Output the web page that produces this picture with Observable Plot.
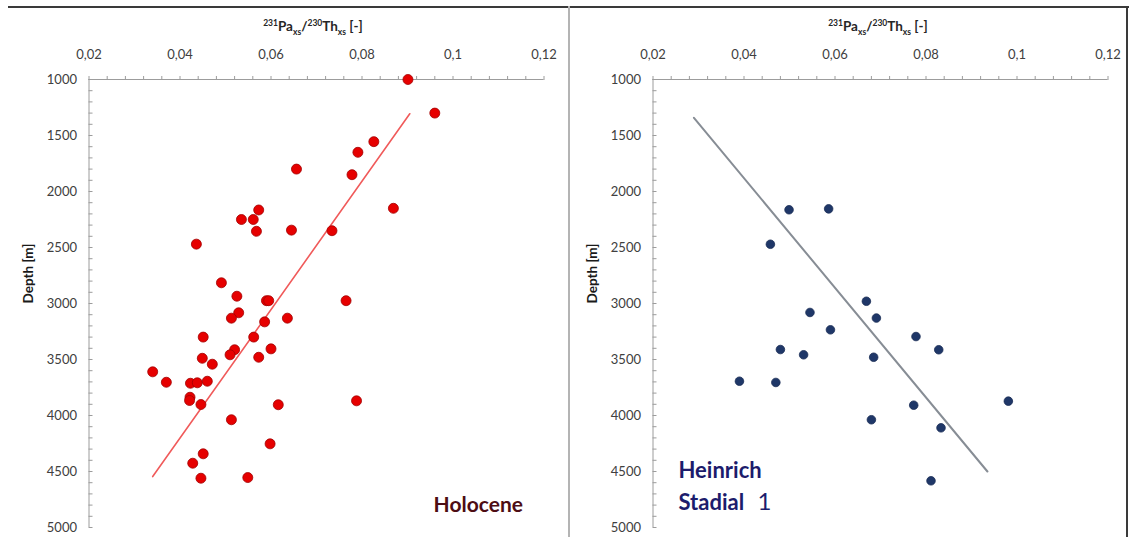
<!DOCTYPE html>
<html>
<head>
<meta charset="utf-8">
<script src="https://cdn.jsdelivr.net/npm/d3@7"></script>
<script src="https://cdn.jsdelivr.net/npm/@observablehq/plot@0.6"></script>
<style>
  html, body { margin: 0; padding: 0; background: #fff; }
  #wrap { position: relative; width: 1129px; height: 537px; overflow: hidden; background: #fff; font-family: Lato, "Open Sans", sans-serif; }
  .panel { position: absolute; top: 0; }
  .xtitle { position: absolute; top: 20px; font-weight: bold; font-size: 13.5px; color: #262626; transform: translateX(-50%); white-space: nowrap; line-height: 1; }
  .xtitle sup, .xtitle sub { font-size: 8.5px; line-height: 0; }
  .rule { position: absolute; }
</style>
</head>
<body>
<div id="wrap">
  <div class="rule" style="left:8px; top:6px; width:1121px; height:2px; background:#3a3a3a;"></div>
  <div class="rule" style="left:1126px; top:6px; width:2px; height:531px; background:#3a3a3a;"></div>
  <div class="rule" style="left:568px; top:6px; width:2px; height:531px; background:#b4b4b4;"></div>
  <div id="left" class="panel" style="left:0px;"></div>
  <div id="right" class="panel" style="left:570px;"></div>
  <div class="xtitle" style="left:313px;"><sup>231</sup>Pa<sub>xs</sub>/<sup>230</sup>Th<sub>xs</sub> [-]</div>
  <div class="xtitle" style="left:878px;"><sup>231</sup>Pa<sub>xs</sub>/<sup>230</sup>Th<sub>xs</sub> [-]</div>
</div>
<script>
// Holocene samples: Pa/Th ratio and water depth (m)
const holoceneRatio = [0.0901, 0.0960, 0.0826, 0.0791, 0.0656, 0.0778, 0.0869, 0.0573, 0.0535, 0.0561,
  0.0568, 0.0645, 0.0734, 0.0436, 0.0491, 0.0525, 0.0590, 0.0595, 0.0765, 0.0529,
  0.0513, 0.0586, 0.0636, 0.0451, 0.0562, 0.0520, 0.0510, 0.0600, 0.0573, 0.0449,
  0.0471, 0.0340, 0.0370, 0.0423, 0.0438, 0.0460, 0.0422, 0.0421, 0.0446, 0.0616,
  0.0788, 0.0513, 0.0598, 0.0451, 0.0428, 0.0446, 0.0549];
const holoceneDepth = [1000, 1300, 1555, 1650, 1800, 1850, 2150, 2165, 2250, 2250,
  2355, 2345, 2350, 2470, 2815, 2935, 2975, 2975, 2975, 3083,
  3131, 3164, 3131, 3300, 3300, 3413, 3458, 3405, 3480, 3489,
  3542, 3610, 3703, 3712, 3708, 3694, 3837, 3866, 3902, 3904,
  3869, 4038, 4253, 4342, 4426, 4560, 4554];

// Heinrich Stadial 1 samples
const hs1Ratio = [0.0499, 0.0586, 0.0458, 0.0669, 0.0545, 0.0691, 0.0590, 0.0778, 0.0480, 0.0828,
  0.0531, 0.0685, 0.0390, 0.0470, 0.0981, 0.0773, 0.0680, 0.0833, 0.0811];
const hs1Depth = [2163, 2155, 2471, 2980, 3080, 3130, 3235, 3295, 3411, 3413,
  3458, 3480, 3694, 3705, 3872, 3908, 4038, 4110, 4583];

// Linear trend lines (end points)
const holoceneTrendRatio = [0.0905, 0.0340];
const holoceneTrendDepth = [1306, 4545];
const hs1TrendRatio = [0.0290, 0.0935];
const hs1TrendDepth = [1342, 4500];

// Axis ticks
const xTicks = [0.02, 0.04, 0.06, 0.08, 0.10, 0.12];
const xTickLabels = ["0,02", "0,04", "0,06", "0,08", "0,1", "0,12"];
const yTicks = [1000, 1500, 2000, 2500, 3000, 3500, 4000, 4500, 5000];
const xMinor = d3.range(26).map(i => 0.02 + i * 0.004);
const yMinor = d3.range(1000, 5001, 100);

const toRows = (xs, ys) => xs.map((v, i) => ({ratio: v, depth: ys[i]}));

function panel({width, marginLeft, marginRight, points, trend, dotFill, dotStroke, dotR, lineStroke, lineWidth, labels}) {
  const labelOf = new Map(xTicks.map((t, i) => [t, xTickLabels[i]]));
  return Plot.plot({
    width, height: 537,
    marginLeft, marginRight, marginTop: 79, marginBottom: 10,
    x: {domain: [0.02, 0.12]},
    y: {domain: [1000, 5000], reverse: true},
    style: {fontFamily: "Lato, 'Open Sans', sans-serif", fontSize: "13px", color: "#404040", background: "transparent", overflow: "visible"},
    marks: [
      Plot.ruleY([1000], {stroke: "#9c9c9c", strokeWidth: 1}),
      Plot.ruleX([0.02], {stroke: "#9c9c9c", strokeWidth: 1}),
      Plot.axisX(xMinor, {anchor: "top", tickSize: 4, text: null, label: null, stroke: "#9c9c9c"}),
      Plot.axisX(xTicks, {anchor: "top", tickSize: 0, tickPadding: 21, label: null,
        tickFormat: d => labelOf.get(d), fill: "#404040"}),
      Plot.axisY(yMinor, {anchor: "left", tickSize: -4, text: null, label: null, stroke: "#9c9c9c"}),
      Plot.axisY(yTicks, {anchor: "left", tickSize: 0, tickPadding: 12, label: null, fill: "#404040", tickFormat: d => String(d)}),
      Plot.text(["Depth [m]"], {frameAnchor: "left", rotate: -90, dx: -60, fontWeight: "bold", fontSize: 13.5, fill: "#1a1a1a"}),
      Plot.line(trend, {x: "ratio", y: "depth", stroke: lineStroke, strokeWidth: lineWidth}),
      Plot.dot(points, {x: "ratio", y: "depth", r: dotR, fill: dotFill, stroke: dotStroke, strokeWidth: 0.8}),
      ...labels
    ]
  });
}

document.getElementById("left").append(panel({
  width: 568, marginLeft: 88.5, marginRight: 24.5,
  points: toRows(holoceneRatio, holoceneDepth),
  trend: toRows(holoceneTrendRatio, holoceneTrendDepth),
  dotFill: "#e60000", dotStroke: "#a10000", dotR: 5,
  lineStroke: "#f05a5a", lineWidth: 1.6,
  labels: [
    Plot.text(["Holocene"], {frameAnchor: "bottom-right", textAnchor: "end", lineAnchor: "bottom",
      dx: -21, dy: -16, fontSize: 21, fontWeight: "bold", fill: "#4d0d14"})
  ]
}));

document.getElementById("right").append(panel({
  width: 559, marginLeft: 82.5, marginRight: 21.5,
  points: toRows(hs1Ratio, hs1Depth),
  trend: toRows(hs1TrendRatio, hs1TrendDepth),
  dotFill: "#1f3768", dotStroke: "#1a2d55", dotR: 4.3,
  lineStroke: "#878d95", lineWidth: 2,
  labels: [
    Plot.text(["Heinrich"], {frameAnchor: "bottom-left", textAnchor: "start", lineAnchor: "bottom",
      dx: 25.5, dy: -50, fontSize: 22, fontWeight: "bold", fill: "#1c1c6c"}),
    Plot.text(["Stadial"], {frameAnchor: "bottom-left", textAnchor: "start", lineAnchor: "bottom",
      dx: 25.5, dy: -18, fontSize: 22, fontWeight: "bold", fill: "#1c1c6c"}),
    Plot.text(["1"], {frameAnchor: "bottom-left", textAnchor: "start", lineAnchor: "bottom",
      dx: 104.5, dy: -18, fontSize: 24, fontWeight: "normal", fill: "#1c1c6c"})
  ]
}));
</script>
</body>
</html>
